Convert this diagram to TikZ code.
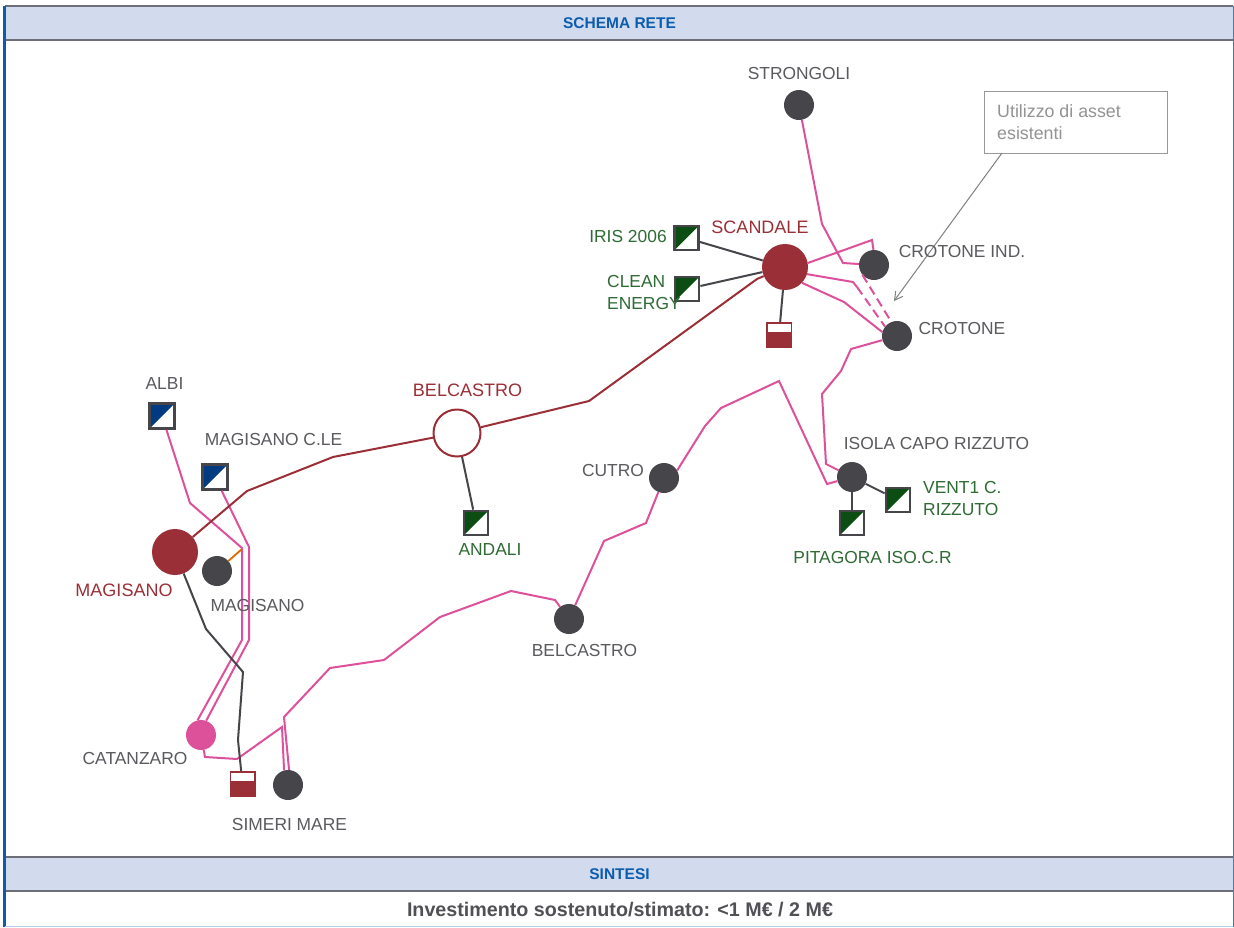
\documentclass[tikz,border=0pt]{standalone}
\usepackage{fontspec}
\usepackage{xcolor}
\usetikzlibrary{arrows.meta}
\setmainfont{Liberation Sans}
\definecolor{bandblue}{HTML}{D2DBEE}
\definecolor{edgeblue}{HTML}{0B5CAD}
\definecolor{bandgray}{HTML}{6E6E78}
\definecolor{netpink}{HTML}{DD519B}
\definecolor{netred}{HTML}{9B2F37}
\definecolor{netdark}{HTML}{46454A}
\definecolor{netgreen}{HTML}{0B4D13}
\definecolor{netblue}{HTML}{003A80}
\definecolor{txtgray}{HTML}{5A5A5F}
\definecolor{txtgreen}{HTML}{2F6B34}
\tikzset{
  lbl/.style={font=\fontsize{17.4}{22}\selectfont, text=txtgray, inner sep=0pt},
  lblred/.style={lbl, font=\fontsize{18}{22}\selectfont, text=netred},
  lblgreen/.style={lbl, text=txtgreen, align=left},
  bandtxt/.style={font=\fontsize{15.5}{16}\selectfont\bfseries, text=edgeblue, inner sep=0pt},
  station/.style={circle, fill=netdark, minimum size=30pt, inner sep=0pt},
  plant/.style={circle, fill=netred, minimum size=46pt, inner sep=0pt},
  halfbox/.style={rectangle, draw=netdark, line width=2.8pt, fill=white, minimum size=24pt, inner sep=0pt,
    path picture={\fill[#1] (path picture bounding box.north west) -- (path picture bounding box.north east)
      -- (path picture bounding box.south west) -- cycle;}},
  loadbox/.style={rectangle, fill=netred, minimum size=26pt, inner sep=0pt,
    path picture={\fill[white] ([xshift=1.5pt,yshift=-1.5pt]path picture bounding box.north west) rectangle ([xshift=-1.5pt,yshift=-9.5pt]path picture bounding box.north east);}},
  pinkline/.style={netpink, line width=2pt},
  redline/.style={netred, line width=2pt},
  darkline/.style={netdark, line width=2pt}
}
\begin{document}
\begin{tikzpicture}[x=1pt, y=-1pt]
    \useasboundingbox[fill=white] (0,0) rectangle (1234,927);

    % Bands and frame
    \fill[bandblue] (5,6) rectangle (1233,40);
    \fill[bandblue] (5,857) rectangle (1233,891);
    \foreach \yy in {6,40,857,891} {
        \draw[bandgray, line width=1.5pt] (5,\yy) -- (1233,\yy);
    }
    \draw[edgeblue, line width=2.6pt] (4.5,6) -- (4.5,927);
    \draw[edgeblue!80, line width=1pt] (1233.5,6) -- (1233.5,927);
    \draw[edgeblue!30, line width=1pt] (5,926.5) -- (1233,926.5);
    \node[bandtxt] (schema) at (619.5,23.5) {SCHEMA RETE};
    \node[bandtxt] (sintesi) at (619.5,874.5) {SINTESI};
    \node[font=\fontsize{19.7}{20}\selectfont\bfseries, text=txtgray!90!black, inner sep=0pt] (invest) at (620,909.5) {Investimento sostenuto/stimato: <1 M€ / 2 M€};

    % Stations
    \node[station] (strongoli) at (799,105) {};
    \node[station] (crotoneind) at (874,265) {};
    \node[station] (crotone) at (897,336) {};
    \node[station] (isola) at (852,477) {};
    \node[station] (cutro) at (664,478) {};
    \node[station] (belcastro) at (569,619) {};
    \node[station] (simeri) at (288,785) {};
    \node[station] (magisano) at (217,571) {};
    \node[station, fill=netpink] (catanzaro) at (201,735) {};

    % Plants
    \node[plant] (scandale) at (785,267) {};
    \node[plant] (magisanop) at (175,552) {};
    \node[circle, draw=netred, line width=2pt, fill=white, minimum size=47pt, inner sep=0pt] (belcastrop) at (457,433) {};

    % Square boxes
    \node[halfbox=netgreen] (iris) at (686.5,238) {};
    \node[halfbox=netgreen] (clean) at (687,289) {};
    \node[halfbox=netgreen] (andali) at (476,523) {};
    \node[halfbox=netgreen] (pitagora) at (852,523) {};
    \node[halfbox=netgreen] (vent) at (898,500) {};
    \node[halfbox=netblue, minimum size=25pt] (albi) at (162,416) {};
    \node[halfbox=netblue, minimum size=25pt] (magisanoc) at (215,477) {};
    \node[loadbox] (loadscandale) at (779,335) {};
    \node[loadbox] (loadsimeri) at (242.5,784) {};

    % Pink lines
    \draw[pinkline] (strongoli) -- (822,224) -- (843,263) -- (crotoneind);
    \draw[pinkline] (scandale.10) -- (872,240) -- (crotoneind.92);
    \draw[pinkline] (scandale.-18) -- (853,282) -- (857,287);
    \draw[pinkline, dash pattern=on 9pt off 5pt] (857,287) -- (crotone.142);
    \draw[pinkline, dash pattern=on 9pt off 5pt] (crotoneind.220) -- (crotone.112);
    \draw[pinkline] (scandale.-43) -- (844,302) -- (crotone.165);
    \draw[pinkline] (crotone) -- (851,349) -- (841,371) -- (822,394) -- (826,464) -- (isola);
    \draw[pinkline] (isola) -- (827,484) -- (779,381) -- (721,408) -- (705,426) -- (cutro.30);
    \draw[pinkline] (cutro) -- (646,523) -- (604,541) -- (belcastro);
    \draw[pinkline] (belcastro) -- (555,600) -- (511,591) -- (440,617) -- (384,660) -- (330,668) -- (284,717) -- (simeri.86);
    \draw[pinkline] (catanzaro) -- (205,757) -- (237,759) -- (282,727) -- (simeri.105);
    \draw[pinkline] (albi) -- (190,503) -- (242,548) -- (242,640) -- (catanzaro.103);
    \draw[pinkline] (magisanoc) -- (249,547) -- (249,640) -- (catanzaro.70);

    % Other lines
    \draw[orange!85!black, line width=1.8pt] (magisano) -- (242,549);
    \draw[redline] (magisanop) -- (247,491) -- (333,457) -- (belcastrop);
    \draw[redline] (belcastrop) -- (589,401) -- (757,279) -- (scandale);
    \draw[darkline] (magisanop) -- (206,629) -- (243,672) -- (238,740) -- (loadsimeri);
    \draw[darkline] (iris) -- (scandale);
    \draw[darkline] (clean) -- (scandale);
    \draw[darkline] (scandale) -- (loadscandale);
    \draw[darkline] (belcastrop) -- (andali);
    \draw[darkline] (isola) -- (pitagora);
    \draw[darkline] (isola) -- (vent);

    % Note
    \node[draw=gray!80, line width=1pt, minimum width=183pt, minimum height=62pt, inner sep=0pt] (note) at (1075.5,122) {};
    \node[lbl, font=\fontsize{17.8}{22}\selectfont, text=gray!85, align=left, anchor=north west] (notetxt) at (997,104) {Utilizzo di asset\\esistenti};
    \coordinate (notetip) at (894,301);
    \draw[-{Straight Barb[length=8pt,width=9pt]}, gray, line width=1pt] (1002,153) -- (notetip);

    % Labels
    \node[lbl] (lstrongoli) at (799,73.5) {STRONGOLI};
    \node[lbl] (lcrotoneind) at (962,251.5) {CROTONE IND.};
    \node[lbl] (lcrotone) at (962,328.5) {CROTONE};
    \node[lbl] (lisola) at (936.5,443.5) {ISOLA CAPO RIZZUTO};
    \node[lbl] (lcutro) at (613,470.5) {CUTRO};
    \node[lbl] (lbelcastro) at (584.5,650.5) {BELCASTRO};
    \node[lbl] (lsimeri) at (289.5,824.5) {SIMERI MARE};
    \node[lbl] (lmagisano) at (257.5,605.5) {MAGISANO};
    \node[lbl] (lcatanzaro) at (135,758.5) {CATANZARO};
    \node[lbl] (lalbi) at (164.5,383.5) {ALBI};
    \node[lbl] (lmagisanoc) at (273.5,439.5) {MAGISANO C.LE};
    \node[lblred] (lscandale) at (760,227.5) {SCANDALE};
    \node[lblred] (lbelcastrop) at (467.5,390.5) {BELCASTRO};
    \node[lblred] (lmagisanop) at (124,590.5) {MAGISANO};
    \node[lblgreen] (liris) at (628,237) {IRIS 2006};
    \node[lblgreen, anchor=west] (lclean) at (607,292.5) {CLEAN\\ENERGY};
    \node[lblgreen] (landali) at (490,549.5) {ANDALI};
    \node[lblgreen, anchor=west] (lvent) at (923,499) {VENT1 C.\\RIZZUTO};
    \node[lblgreen] (lpitagora) at (872.5,557.5) {PITAGORA ISO.C.R};
\end{tikzpicture}
\end{document}
